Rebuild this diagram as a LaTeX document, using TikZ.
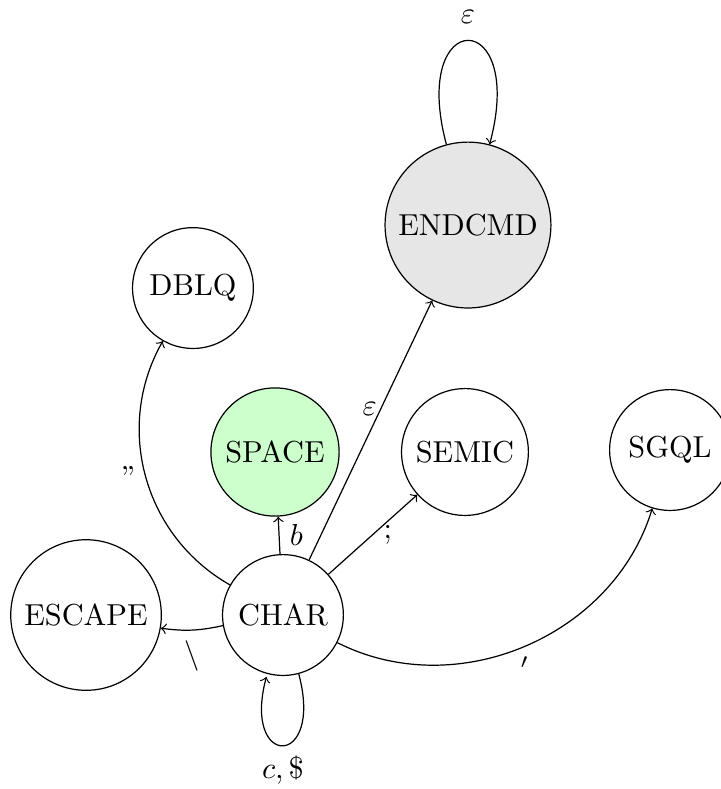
\documentclass[tikz,border=0pt]{standalone}
\usepackage{tikz}
\usetikzlibrary{arrows, shapes, positioning, calc}
\definecolor{spacefill}{RGB}{204,255,204}
\definecolor{endfill}{RGB}{230,230,230}
\tikzstyle{stnode} = [circle, draw, inner sep=3.5pt, minimum size=1.4cm]
\tikzstyle{trans} = [->]

\begin{document}
\begin{tikzpicture}
        \useasboundingbox (0,0) rectangle (8.355,9.143);
        % states
        \node[stnode, fill=endfill] (endcmd) at (5.423,6.535) {ENDCMD};
        \node[stnode] (dblq) at (2.236,5.805) {DBLQ};
        \node[stnode, fill=spacefill] (space) at (3.187,3.905) {SPACE};
        \node[stnode] (semic) at (5.388,3.905) {SEMIC};
        \node[stnode] (sgql) at (7.764,3.928) {SGQL};
        \node[stnode] (escape) at (0.997,2.016) {ESCAPE};
        \node[stnode] (char) at (3.279,2.016) {CHAR};
        % transitions
        \draw[trans] (char) edge node[right] {$b$} (space);
        \draw[trans] (char) edge node[pos=0.58, left, inner sep=1pt] {$\varepsilon$} (endcmd);
        \draw[trans] (char) edge node[right] {;} (semic);
        \draw[trans] (char) edge[bend right=50] node[below, pos=0.5] {$'$} (sgql);
        \draw[trans] (char) edge[bend left=10] node[below] {$\backslash$} (escape);
        \draw[trans] (char) edge[bend left=45] node[left] {''} (dblq);
        \draw[trans] (char) edge[loop below] node[below] {$c,\$$} (char);
        \draw[trans] (endcmd) edge[loop above, looseness=8.5] node[above=2pt] {$\varepsilon$} (endcmd);
\end{tikzpicture}
\end{document}
